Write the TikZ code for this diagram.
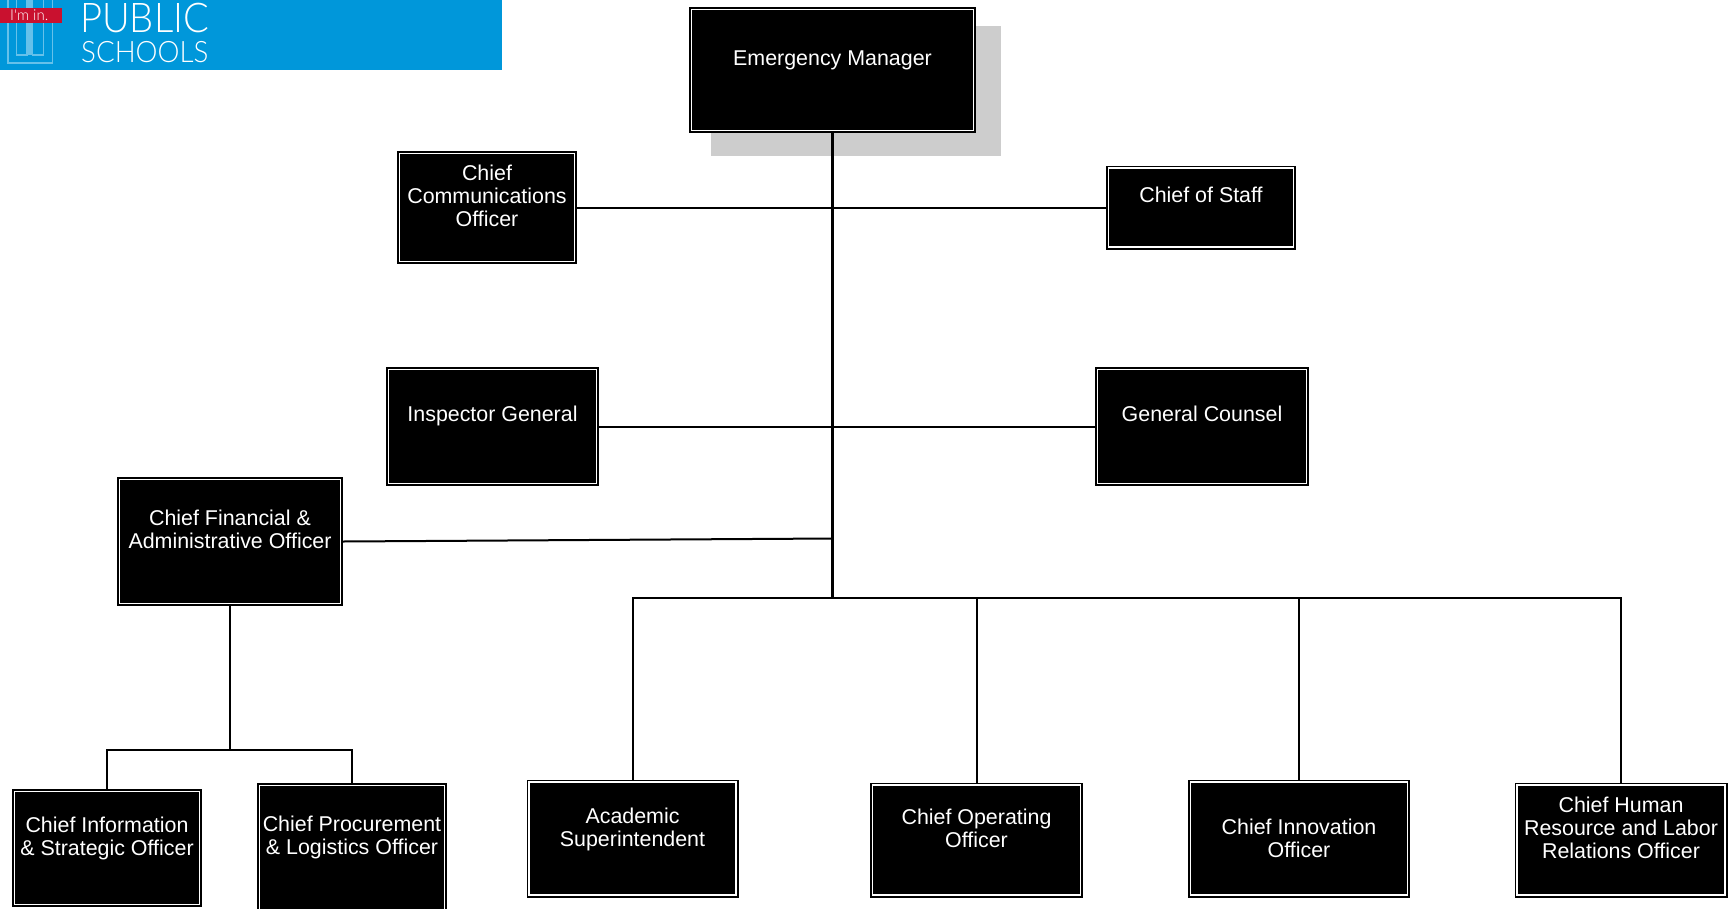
\documentclass[tikz,border=0pt]{standalone}
\usepackage{fontspec}
\setmainfont{Liberation Sans}
\newfontfamily\logofont{Lato Light}
\definecolor{logoblue}{HTML}{0097DA}
\definecolor{logoline}{HTML}{66C1EA}
\definecolor{logored}{HTML}{C9112F}
\definecolor{shadowgrey}{HTML}{CDCDCD}
\tikzset{
  orgbox/.style={draw=black,fill=black,double=white,double distance=1.8pt,line width=1.6pt,
    outer sep=2.5pt,inner sep=0pt,text=white,align=center,font=\fontsize{21.4}{23}\selectfont},
  conn/.style={line width=2pt,draw=black},
  trunk/.style={line width=3.4pt,draw=black},
  logotext/.style={text=white,inner sep=0pt,anchor=base west,font=\logofont},
}
\begin{document}
\begin{tikzpicture}[line cap=butt,line join=miter,x=1pt,y=-1pt]
\path[use as bounding box,clip] (0,0) rectangle (1735,908);
% logo
\fill[logoblue] (0,0) rectangle (502,70);
\draw[logoline,line width=1.3pt] (8,0)--(8,63)--(52.5,63)--(52.5,0);
\draw[logoline,line width=1.3pt] (16.5,0)--(16.5,55)--(27,55)--(27,0) (32.5,0)--(32.5,55)--(43.5,55)--(43.5,0);
\fill[logoline] (27,0) rectangle (32.5,55);
\fill[logored] (0,8) rectangle (62,23);
\node[logotext,font=\logofont\fontsize{15}{16}\selectfont] (imin) at (10,20.5) {I'm in.};
\node[logotext,font=\logofont\fontsize{41}{44}\selectfont] (public) at (80,32) {\scalebox{.93}[1]{PUBLIC}};
\node[logotext,font=\logofont\fontsize{29.5}{32}\selectfont] (schools) at (81,62.5) {\scalebox{.94}[1]{SCHOOLS}};
% shadow
\fill[shadowgrey] (711,26) rectangle (1001,156);
% boxes
\node[orgbox,minimum width=282,minimum height=121,text depth=23] (em) at (832.5,70) {Emergency Manager};
\node[orgbox,minimum width=175,minimum height=108,text depth=24.5] (comm) at (487,207.5) {Chief\\Communications\\Officer};
\node[orgbox,minimum width=185,minimum height=79,text depth=25] (staff) at (1201,207.5) {Chief of Staff};
\node[orgbox,minimum width=208,minimum height=114,text depth=25] (ig) at (492.5,426.5) {Inspector General};
\node[orgbox,minimum width=209,minimum height=114,text depth=25] (counsel) at (1202,426.5) {General Counsel};
\node[orgbox,minimum width=221,minimum height=124,text depth=24.5] (cfao) at (230,541.5) {Chief Financial \&\\Administrative Officer};
\node[orgbox,minimum width=185,minimum height=113,text depth=24] (info) at (107,848) {Chief Information\\\& Strategic Officer};
\node[orgbox,minimum width=185,minimum height=127,text depth=27] (proc) at (352,849) {Chief Procurement\\\& Logistics Officer};
\node[orgbox,minimum width=207,minimum height=113,text depth=23] (acad) at (632.5,838.5) {Academic\\Superintendent};
\node[orgbox,minimum width=208,minimum height=110,text depth=24] (coo) at (976.5,840) {Chief Operating\\Officer};
\node[orgbox,minimum width=217,minimum height=113,text depth=0] (innov) at (1299,838.5) {Chief Innovation\\Officer};
\node[orgbox,minimum width=208,minimum height=110,text depth=24.5] (hr) at (1621,840) {Chief Human\\Resource and Labor\\Relations Officer};
% joints
\coordinate (bus) at (832.5,598);
\coordinate (cfaojoin) at (832.5,538.5);
\coordinate (cfaobus) at (230,750);
% connectors
\draw[conn] (comm.east) -- (staff.west);
\draw[conn] (ig.east) -- (counsel.west);
\draw[conn] (cfao.east) -- (cfaojoin);
\draw[trunk] (em.south) -- (bus);
\foreach \n in {acad,coo,innov,hr} \draw[conn] (bus) -| (\n.north);
\draw[line width=2.4pt] (cfao.south) -- (cfaobus);
\foreach \n in {info,proc} \draw[conn] (cfaobus) -| (\n.north);
\end{tikzpicture}
\end{document}
